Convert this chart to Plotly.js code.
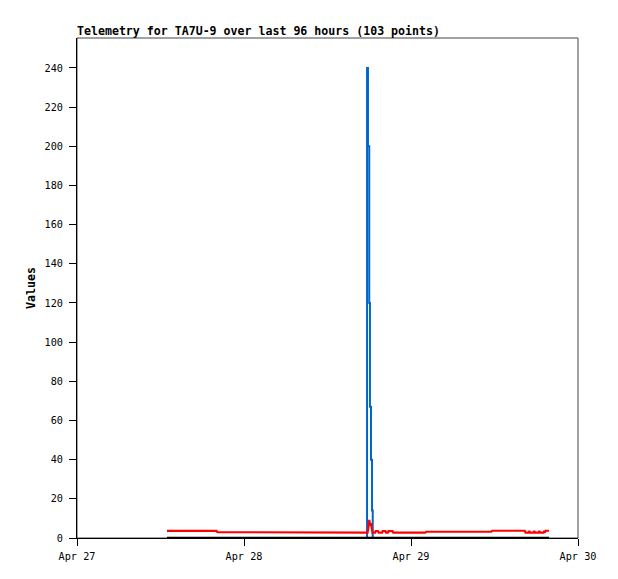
<!DOCTYPE html>
<html>
<head>
<meta charset="utf-8">
<script src="https://cdn.plot.ly/plotly-3.0.1.min.js"></script>
<style>html,body{margin:0;padding:0;background:#fff;}#chart{width:618px;height:579px;}</style>
</head>
<body>
<div id="chart"></div>
<script>
// Blue series (spike), drawn as steps
const blueTimes = [
  '2024-04-27 12:56', '2024-04-28 17:36', '2024-04-28 17:41', '2024-04-28 17:49',
  '2024-04-28 18:00', '2024-04-28 18:06', '2024-04-28 18:15', '2024-04-28 18:24',
  '2024-04-28 18:30', '2024-04-29 19:50'
];
const blueValues = [0, 0, 240, 200, 120, 67, 40, 14, 0, 0];

// Red series
const redTimes = [
  '2024-04-27 12:56', '2024-04-27 20:03', '2024-04-27 20:11',
  '2024-04-28 10:08', '2024-04-28 10:17',
  '2024-04-28 17:45', '2024-04-28 17:52', '2024-04-28 18:00', '2024-04-28 18:09', '2024-04-28 18:15', '2024-04-28 18:28',
  '2024-04-28 18:50', '2024-04-28 18:56', '2024-04-28 19:15', '2024-04-28 19:21',
  '2024-04-28 19:50', '2024-04-28 19:56', '2024-04-28 20:20', '2024-04-28 20:26',
  '2024-04-28 20:40', '2024-04-28 20:46', '2024-04-28 21:21', '2024-04-28 21:27',
  '2024-04-29 02:02', '2024-04-29 02:11',
  '2024-04-29 11:32', '2024-04-29 11:40',
  '2024-04-29 16:21', '2024-04-29 16:28',
  '2024-04-29 16:54', '2024-04-29 17:00', '2024-04-29 17:06',
  '2024-04-29 17:37', '2024-04-29 17:43', '2024-04-29 17:49',
  '2024-04-29 18:20', '2024-04-29 18:26', '2024-04-29 18:32',
  '2024-04-29 19:03', '2024-04-29 19:09', '2024-04-29 19:15',
  '2024-04-29 19:21', '2024-04-29 19:50'
];
const redValues = [
  3.6, 3.6, 3.0,
  3.0, 2.7,
  2.7, 5.0, 9.2, 6.3, 7.6, 2.7,
  2.7, 3.5, 3.5, 2.7,
  2.7, 3.5, 3.5, 2.7,
  2.7, 3.5, 3.5, 2.7,
  2.7, 3.2,
  3.2, 3.7,
  3.7, 2.7,
  2.7, 3.7, 2.7,
  2.7, 3.7, 2.7,
  2.7, 3.7, 2.7,
  2.7, 3.7, 2.7,
  3.7, 3.7
];

// Black series
const blackTimes = ['2024-04-27 12:56', '2024-04-29 19:50'];
const blackValues = [0, 0];

const xTickStart = '2024-04-27';
const xTickEnd = '2024-04-30';
const titleText = 'Telemetry for TA7U-9 over last 96 hours (103 points)';
const yTitle = 'Values';

const mono = '"DejaVu Sans Mono", "Liberation Mono", monospace';

const traces = [
  {x: blueTimes, y: blueValues, type: 'scatter', mode: 'lines', line: {color: '#0066cc', width: 2, shape: 'hv'}, hoverinfo: 'skip'},
  {x: redTimes, y: redValues, type: 'scatter', mode: 'lines', line: {color: '#ff0000', width: 2.2}, hoverinfo: 'skip'},
  {x: blackTimes, y: blackValues, type: 'scatter', mode: 'lines', line: {color: '#000000', width: 2.4}, hoverinfo: 'skip', cliponaxis: false}
];

const layout = {
  width: 618, height: 579,
  margin: {l: 77, r: 40, t: 38, b: 41, pad: 0},
  paper_bgcolor: '#ffffff', plot_bgcolor: '#ffffff',
  showlegend: false,
  title: {
    text: titleText, x: 77/618, xref: 'container', xanchor: 'left',
    y: 1 - 31/579, yref: 'container', yanchor: 'middle',
    font: {family: mono, size: 11.6, color: '#000', weight: 'bold'}
  },
  xaxis: {
    type: 'date', range: [xTickStart, xTickEnd],
    tick0: xTickStart, dtick: 86400000, tickformat: '%b %d',
    showgrid: false, zeroline: false,
    showline: true, linecolor: '#000', linewidth: 1,
    ticks: 'outside', ticklen: 7, tickcolor: '#000', tickwidth: 1,
    ticklabelstandoff: 2,
    tickfont: {family: mono, size: 10.2, color: '#000'},
    fixedrange: true
  },
  yaxis: {
    range: [0, 255.3], tick0: 0, dtick: 20,
    showgrid: false, zeroline: false,
    showline: true, linecolor: '#000', linewidth: 1,
    ticks: 'outside', ticklen: 7, tickcolor: '#000', tickwidth: 1,
    ticklabelstandoff: 4,
    tickfont: {family: mono, size: 10.2, color: '#000'},
    title: {text: yTitle, standoff: 6, font: {family: mono, size: 11.6, color: '#000', weight: 'bold'}},
    fixedrange: true
  },
  shapes: [
    {type: 'rect', xref: 'paper', yref: 'paper', x0: 0, x1: 1, y0: 0, y1: 1,
     line: {color: '#444', width: 1}, layer: 'below'}
  ]
};

Plotly.newPlot('chart', traces, layout, {displayModeBar: false, staticPlot: true});
</script>
</body>
</html>
